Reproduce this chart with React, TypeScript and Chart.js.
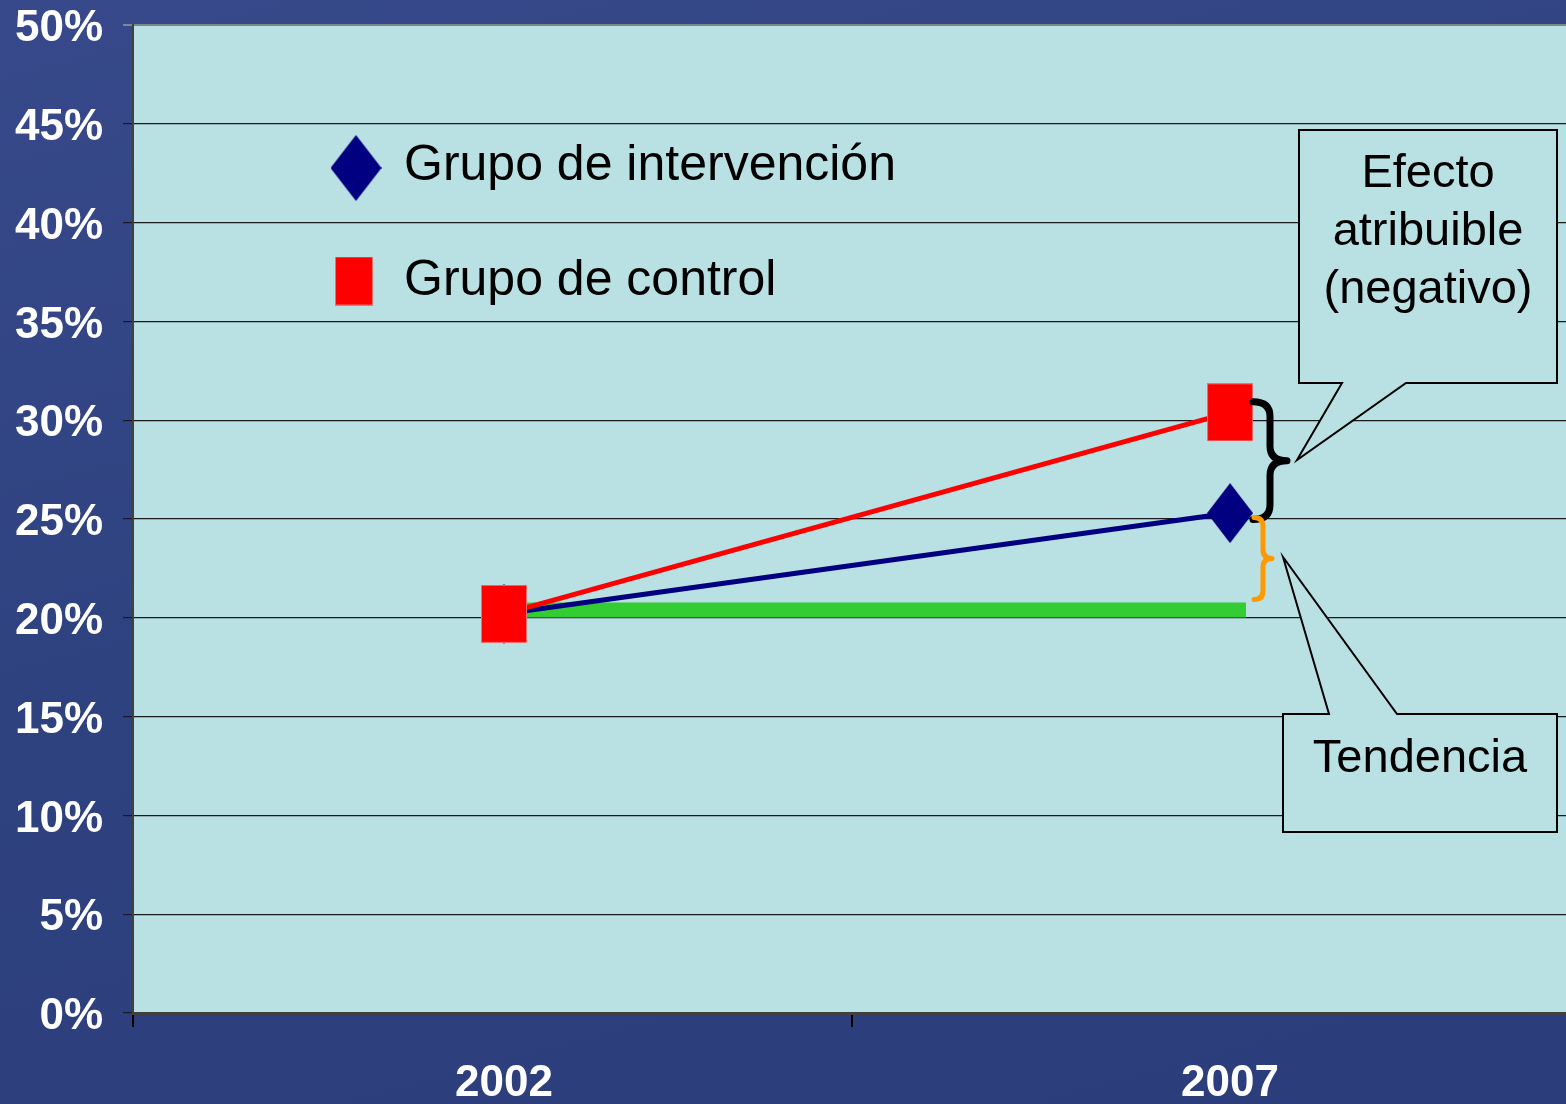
import React, { useEffect, useRef } from 'react';
import { Chart, registerables } from 'chart.js';

Chart.register(...registerables);

// ---- data ----
const years = ['2002', '2007'];
const yearPositions = [0, 1];
const interventionValues = [20.2, 25.3];
const controlValues = [20.2, 30.4];
const trendValues = [20.4, 20.4];
const trendPositions = [0, 1.022];
const yTickValues = [0, 5, 10, 15, 20, 25, 30, 35, 40, 45, 50];
const legendLabels = ['Grupo de intervención', 'Grupo de control'];
const effectLabelLines = ['Efecto', 'atribuible', '(negativo)'];
const trendLabel = 'Tendencia';
const effectBraceRange = [30.93, 24.97];
const trendBraceRange = [25.07, 20.92];

const FONT = "'Liberation Sans', Arial, sans-serif";
const PLOT_BG = '#b9e0e3';

function makeDiamond(w: number, h: number, color: string) {
  const c = document.createElement('canvas');
  c.width = w; c.height = h;
  const x = c.getContext('2d')!;
  x.fillStyle = color;
  x.beginPath();
  x.moveTo(w / 2, 0); x.lineTo(w, h / 2); x.lineTo(w / 2, h); x.lineTo(0, h / 2);
  x.closePath(); x.fill();
  return c;
}
function makeRect(w: number, h: number, color: string) {
  const c = document.createElement('canvas');
  c.width = w; c.height = h;
  const x = c.getContext('2d')!;
  x.fillStyle = '#f07070';
  x.fillRect(0, 0, w, h);
  x.fillStyle = color;
  x.fillRect(1, 1, w - 2, h - 2);
  return c;
}

function brace(ctx: CanvasRenderingContext2D, x0: number, yTop: number, yBot: number, depth: number, lw: number, color: string) {
  const mid = (yTop + yBot) / 2;
  const xv = x0 + depth / 2;
  const xt = x0 + depth;
  const r = Math.min(depth / 2, (yBot - yTop) / 8);
  ctx.save();
  ctx.strokeStyle = color;
  ctx.lineWidth = lw;
  ctx.lineCap = 'round';
  ctx.lineJoin = 'round';
  ctx.beginPath();
  ctx.moveTo(x0, yTop);
  ctx.quadraticCurveTo(xv, yTop, xv, yTop + r);
  ctx.lineTo(xv, mid - r);
  ctx.quadraticCurveTo(xv, mid, xt, mid);
  ctx.quadraticCurveTo(xv, mid, xv, mid + r);
  ctx.lineTo(xv, yBot - r);
  ctx.quadraticCurveTo(xv, yBot, x0, yBot);
  ctx.stroke();
  ctx.restore();
}

function callout(ctx: CanvasRenderingContext2D, pts: number[][]) {
  ctx.save();
  ctx.beginPath();
  ctx.moveTo(pts[0][0], pts[0][1]);
  for (let i = 1; i < pts.length; i++) ctx.lineTo(pts[i][0], pts[i][1]);
  ctx.closePath();
  ctx.fillStyle = PLOT_BG;
  ctx.fill();
  ctx.strokeStyle = '#000';
  ctx.lineWidth = 2;
  ctx.lineJoin = 'miter';
  ctx.stroke();
  ctx.restore();
}

export default function App() {
  const ref = useRef<HTMLCanvasElement>(null);

  useEffect(() => {
    if (!ref.current) return;
    const diamond = makeDiamond(46, 60, '#000080');
    const square = makeRect(46, 58, '#ff0000');
    const legendDiamond = makeDiamond(51, 66, '#000080');
    const legendSquare = makeRect(38, 49, '#ff0000');

    const bgPlugin = {
      id: 'plotBg',
      beforeDraw(chart: any) {
        const { ctx, chartArea: a } = chart;
        ctx.save();
        ctx.fillStyle = PLOT_BG;
        ctx.fillRect(a.left, a.top, a.right - a.left, a.bottom - a.top);
        ctx.restore();
      },
    };

    const annotPlugin = {
      id: 'annots',
      afterDatasetsDraw(chart: any) {
        const { ctx, chartArea: a } = chart;
        const xs = chart.scales.x;
        const ys = chart.scales.y;
        // legend
        const lx = a.left + 223;
        ctx.save();
        ctx.drawImage(legendDiamond, lx - 25.5, a.top + 143 - 33);
        ctx.drawImage(legendSquare, lx - 21, a.top + 256 - 24.5);
        ctx.fillStyle = '#000';
        ctx.font = `50px ${FONT}`;
        ctx.textAlign = 'left';
        ctx.textBaseline = 'alphabetic';
        ctx.fillText(legendLabels[0], a.left + 271, a.top + 155);
        ctx.fillText(legendLabels[1], a.left + 271, a.top + 270);
        ctx.restore();

        // braces
        const bx = xs.getPixelForValue(yearPositions[1]) + 23;
        brace(ctx, bx, ys.getPixelForValue(effectBraceRange[0]), ys.getPixelForValue(effectBraceRange[1]), 34, 7, '#000');
        brace(ctx, bx + 1, ys.getPixelForValue(trendBraceRange[0]), ys.getPixelForValue(trendBraceRange[1]), 18, 5, '#ff9900');

        // callouts
        callout(ctx, [[1299, 130], [1557, 130], [1557, 383], [1406, 383], [1297, 460], [1342, 383], [1299, 383]]);
        callout(ctx, [[1283, 714], [1329, 714], [1283, 557], [1397, 714], [1557, 714], [1557, 832], [1283, 832]]);
        ctx.save();
        ctx.fillStyle = '#000';
        ctx.font = `47px ${FONT}`;
        ctx.textAlign = 'center';
        ctx.textBaseline = 'alphabetic';
        effectLabelLines.forEach((t, i) => ctx.fillText(t, 1428, 187 + i * 58));
        ctx.fillText(trendLabel, 1420, 772);
        ctx.restore();
      },
    };

    const xMin = -0.511;
    const xMax = 1.4628;
    const midTick = 0.479;

    const chart = new Chart(ref.current, {
      type: 'line',
      data: {
        datasets: [
          {
            label: legendLabels[1],
            data: yearPositions.map((x, i) => ({ x, y: controlValues[i] })),
            borderColor: '#ff0000',
            borderWidth: 5,
            pointStyle: square as any,
            pointRadius: 10,
            showLine: true,
          },
          {
            label: legendLabels[0],
            data: yearPositions.map((x, i) => ({ x, y: interventionValues[i] })),
            borderColor: '#000080',
            borderWidth: 5,
            pointStyle: diamond as any,
            pointRadius: 10,
            showLine: true,
          },
          {
            label: 'trend',
            data: trendPositions.map((x, i) => ({ x, y: trendValues[i] })),
            borderColor: '#33cc33',
            borderWidth: 15,
            borderCapStyle: 'butt',
            pointRadius: 0,
            showLine: true,
          },
        ],
      },
      options: {
        responsive: false,
        animation: false,
        events: [],
        layout: { autoPadding: false, padding: { top: 25, left: 0, right: 0, bottom: 0 } },
        plugins: { legend: { display: false }, tooltip: { enabled: false } },
        scales: {
          x: {
            type: 'linear',
            min: xMin,
            max: xMax,
            afterBuildTicks(axis: any) {
              axis.ticks = [{ value: xMin }, { value: yearPositions[0] }, { value: midTick }, { value: yearPositions[1] }];
            },
            afterFit(scale: any) {
              scale.height = 91;
              scale.paddingLeft = 0;
              scale.paddingRight = 0;
            },
            ticks: {
              autoSkip: false,
              maxRotation: 0,
              padding: 30,
              color: '#ffffff',
              font: { family: FONT, size: 44, weight: 'bold' },
              callback: (v: any) => {
                const idx = yearPositions.indexOf(Number(v));
                return idx >= 0 ? years[idx] : '';
              },
            },
            grid: {
              drawOnChartArea: false,
              drawTicks: true,
              tickLength: 14,
              lineWidth: 2,
              color: (c: any) => (c.tick && yearPositions.includes(c.tick.value) ? 'rgba(0,0,0,0)' : '#000'),
            },
            border: { display: true, color: '#404040', width: 3 },
          },
          y: {
            min: 0,
            max: 50,
            afterBuildTicks(axis: any) {
              axis.ticks = yTickValues.map((v) => ({ value: v }));
            },
            afterFit(scale: any) {
              scale.width = 133;
              scale.paddingTop = 0;
              scale.paddingBottom = 0;
            },
            ticks: {
              padding: 20,
              labelOffset: 4,
              color: '#ffffff',
              font: { family: FONT, size: 44, weight: 'bold', lineHeight: 1 },
              callback: (v: any) => `${v}%`,
            },
            grid: {
              drawTicks: true,
              tickLength: 10,
              lineWidth: (c: any) => (c.tick && c.tick.value === 50 ? 2 : 1.2),
              color: (c: any) => (c.tick && c.tick.value === 50 ? '#7a8a8c' : '#1a1a1a'),
            },
            border: { display: true, color: '#404040', width: 2 },
          },
        },
      },
      plugins: [bgPlugin, annotPlugin],
    } as any);

    return () => chart.destroy();
  }, []);

  return (
    <div
      style={{
        position: 'absolute',
        left: 0,
        top: 0,
        width: 1566,
        height: 1104,
        background: 'linear-gradient(165deg, #37498a 0%, #2f4280 45%, #2b3d7a 100%)',
      }}
    >
      <canvas ref={ref} width={1566} height={1104} style={{ display: 'block' }} />
    </div>
  );
}
